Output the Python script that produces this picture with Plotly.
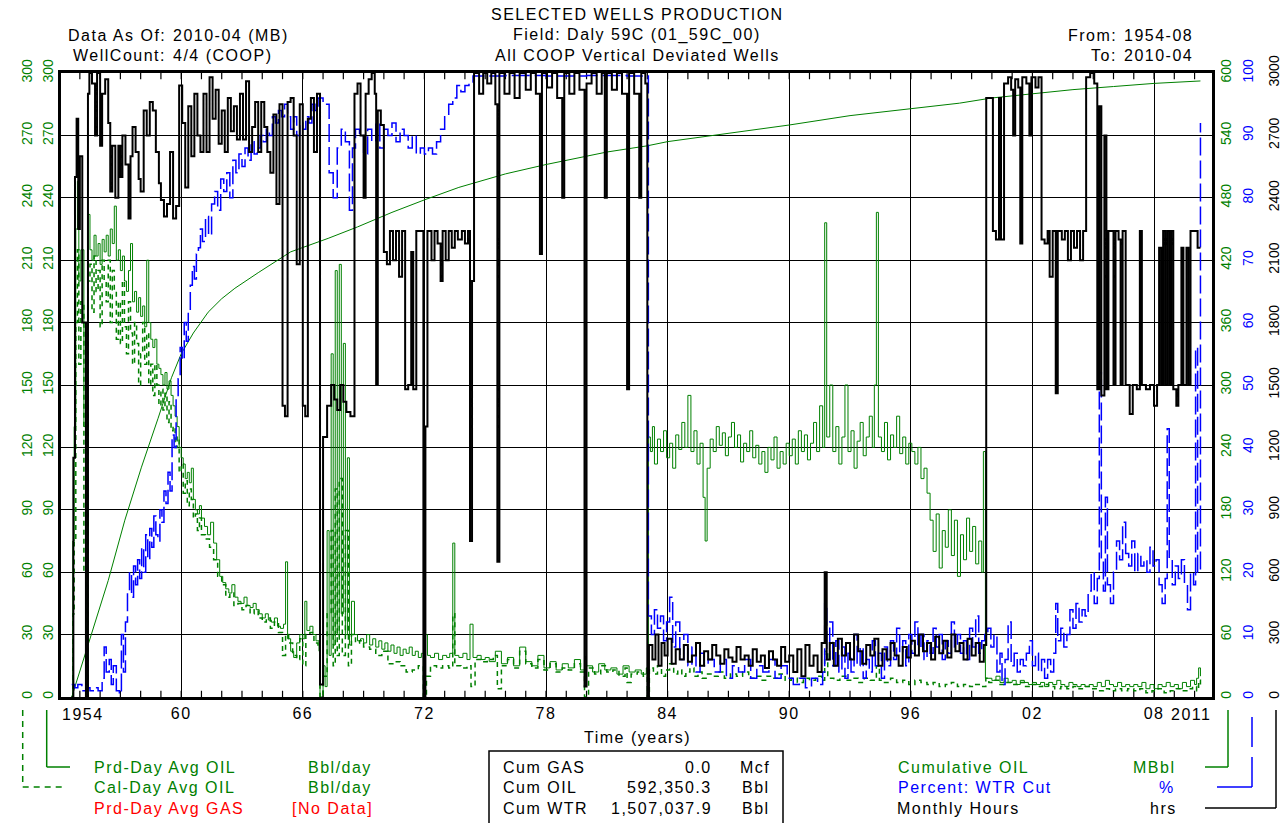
import plotly.graph_objects as go

# ---------------- data ----------------
X_TICK_YEARS = [1960, 1966, 1972, 1978, 1984, 1990, 1996, 2002, 2008]
X_TICK_TEXT = ["60", "66", "72", "78", "84", "90", "96", "02", "08"]
X_MINOR_YEARS = list(range(1955, 2011))
X_FIRST_LABEL = "1954"
X_LAST_LABEL = "2011"
X_RANGE = [1954.07, 2010.86]

LEFT_TICKS = [0, 30, 60, 90, 120, 150, 180, 210, 240, 270, 300]
CUM_TICKS = [0, 60, 120, 180, 240, 300, 360, 420, 480, 540, 600]
WC_TICKS = [0, 10, 20, 30, 40, 50, 60, 70, 80, 90, 100]
HRS_TICKS = [0, 300, 600, 900, 1200, 1500, 1800, 2100, 2400, 2700, 3000]

# Prd-Day Avg OIL (Bbl/day)  (year, value)
PRD_OIL = [
    (1954.60, 0), (1954.65, 75), (1954.72, 130), (1954.80, 225), (1954.88, 248), (1954.95, 200),
    (1955.05, 215), (1955.20, 130), (1955.30, 0), (1955.40, 232), (1955.50, 215), (1955.60, 210),
    (1955.70, 222), (1955.80, 212), (1955.90, 218), (1956.00, 208), (1956.10, 220), (1956.20, 214),
    (1956.30, 222), (1956.40, 212), (1956.50, 225), (1956.60, 218), (1956.70, 236), (1956.80, 210),
    (1956.90, 215), (1957.00, 205), (1957.10, 212), (1957.20, 200), (1957.30, 195), (1957.40, 205),
    (1957.50, 218), (1957.60, 190), (1957.70, 195), (1957.80, 185), (1957.90, 192), (1958.00, 183),
    (1958.10, 188), (1958.20, 178), (1958.30, 210), (1958.40, 180), (1958.50, 172), (1958.60, 168),
    (1958.70, 172), (1958.80, 160), (1958.90, 158), (1959.00, 155), (1959.10, 150), (1959.20, 156),
    (1959.30, 148), (1959.40, 152), (1959.50, 145), (1959.60, 140), (1959.70, 135), (1959.80, 130),
    (1959.90, 120), (1960.00, 115), (1960.10, 112), (1960.20, 105), (1960.30, 108), (1960.40, 103),
    (1960.50, 110), (1960.60, 95), (1960.70, 90), (1960.80, 88), (1960.90, 92), (1961.00, 86),
    (1961.15, 82), (1961.30, 78), (1961.45, 84), (1961.60, 74), (1961.75, 66), (1961.90, 58),
    (1962.05, 55), (1962.20, 52), (1962.35, 50), (1962.50, 54), (1962.65, 48), (1962.80, 46),
    (1962.95, 45), (1963.10, 48), (1963.25, 44), (1963.40, 43), (1963.55, 45), (1963.70, 42),
    (1963.85, 40), (1964.00, 38), (1964.15, 40), (1964.30, 37), (1964.45, 36), (1964.60, 38),
    (1964.75, 34), (1964.90, 33), (1965.05, 35), (1965.15, 65), (1965.25, 28), (1965.40, 22),
    (1965.55, 19), (1965.70, 26), (1965.85, 30), (1966.00, 28), (1966.10, 46), (1966.20, 32),
    (1966.35, 34), (1966.50, 30), (1966.65, 27), (1966.80, 22), (1966.85, 0), (1967.00, 15),
    (1967.10, 5), (1967.20, 80), (1967.30, 20), (1967.40, 165), (1967.50, 25), (1967.60, 205),
    (1967.70, 30), (1967.80, 208), (1967.90, 40), (1968.00, 170), (1968.10, 30), (1968.20, 115),
    (1968.30, 25), (1968.40, 46), (1968.55, 30), (1968.70, 27), (1968.85, 28), (1969.00, 26),
    (1969.15, 30), (1969.30, 25), (1969.45, 28), (1969.60, 24), (1969.75, 27), (1969.90, 23),
    (1970.05, 26), (1970.20, 22), (1970.35, 25), (1970.50, 21), (1970.65, 24), (1970.80, 20),
    (1970.95, 23), (1971.10, 21), (1971.25, 24), (1971.40, 20), (1971.55, 22), (1971.70, 19),
    (1971.85, 21), (1971.95, 0), (1972.05, 30), (1972.15, 20), (1972.30, 19), (1972.50, 21),
    (1972.70, 18), (1972.90, 20), (1973.10, 19), (1973.25, 21), (1973.40, 74), (1973.50, 20),
    (1973.70, 19), (1973.90, 21), (1974.10, 18), (1974.25, 35), (1974.40, 19), (1974.60, 20),
    (1974.80, 18), (1975.00, 19), (1975.20, 17), (1975.50, 22), (1975.80, 16), (1976.10, 19),
    (1976.40, 15), (1976.70, 24), (1977.00, 17), (1977.30, 15), (1977.60, 20), (1977.90, 14),
    (1978.20, 17), (1978.50, 13), (1978.80, 16), (1979.10, 14), (1979.40, 18), (1979.70, 13),
    (1980.00, 15), (1980.30, 12), (1980.60, 16), (1980.90, 13), (1981.20, 14), (1981.50, 11),
    (1981.80, 15), (1982.10, 12), (1982.40, 13), (1982.70, 11), (1982.95, 14),
    (1983.05, 125), (1983.15, 118), (1983.25, 130), (1983.35, 112), (1983.50, 124), (1983.65, 118),
    (1983.80, 128), (1983.95, 115), (1984.10, 122), (1984.25, 110), (1984.40, 126), (1984.55, 119),
    (1984.70, 132), (1984.85, 120), (1985.00, 145), (1985.15, 118), (1985.30, 128), (1985.45, 112),
    (1985.60, 122), (1985.75, 96), (1985.85, 75), (1985.95, 110), (1986.10, 124), (1986.25, 118),
    (1986.40, 130), (1986.55, 121), (1986.70, 127), (1986.85, 116), (1987.00, 125), (1987.15, 132),
    (1987.30, 120), (1987.45, 126), (1987.60, 113), (1987.75, 122), (1987.90, 118), (1988.05, 128),
    (1988.20, 115), (1988.35, 121), (1988.50, 112), (1988.65, 118), (1988.80, 108), (1988.95, 120),
    (1989.10, 114), (1989.25, 125), (1989.40, 110), (1989.55, 118), (1989.70, 112), (1989.85, 122),
    (1990.00, 116), (1990.15, 124), (1990.30, 112), (1990.45, 128), (1990.60, 118), (1990.75, 126),
    (1990.90, 114), (1991.05, 122), (1991.20, 132), (1991.35, 118), (1991.50, 140), (1991.65, 120),
    (1991.75, 228), (1991.85, 125), (1992.00, 150), (1992.15, 118), (1992.30, 130), (1992.45, 112),
    (1992.60, 125), (1992.75, 150), (1992.90, 118), (1993.05, 128), (1993.20, 110), (1993.35, 123),
    (1993.50, 132), (1993.65, 116), (1993.80, 125), (1993.95, 135), (1994.10, 120), (1994.20, 150),
    (1994.30, 233), (1994.40, 125), (1994.55, 118), (1994.70, 132), (1994.85, 114), (1995.00, 126),
    (1995.15, 120), (1995.30, 135), (1995.45, 117), (1995.60, 125), (1995.75, 112), (1995.90, 122),
    (1996.05, 118), (1996.20, 112), (1996.35, 120), (1996.50, 105), (1996.65, 110), (1996.80, 98),
    (1996.95, 85), (1997.10, 70), (1997.25, 88), (1997.40, 62), (1997.55, 80), (1997.70, 72),
    (1997.85, 90), (1998.00, 68), (1998.15, 85), (1998.30, 58), (1998.45, 78), (1998.60, 66),
    (1998.75, 86), (1998.90, 70), (1999.05, 82), (1999.20, 64), (1999.35, 75), (1999.50, 60),
    (1999.58, 118), (1999.68, 9),
    (2000.00, 8), (2000.20, 10), (2000.40, 7), (2000.60, 9), (2000.80, 7), (2001.00, 8),
    (2001.20, 6), (2001.40, 8), (2001.60, 7), (2001.80, 6), (2002.00, 7), (2002.20, 6),
    (2002.40, 7), (2002.60, 5), (2002.80, 7), (2003.00, 6), (2003.20, 8), (2003.40, 6),
    (2003.60, 5), (2003.80, 7), (2004.00, 6), (2004.20, 5), (2004.40, 6), (2004.60, 5),
    (2004.80, 6), (2005.00, 5), (2005.20, 7), (2005.40, 5), (2005.60, 8), (2005.80, 6),
    (2006.00, 5), (2006.20, 7), (2006.40, 5), (2006.60, 6), (2006.80, 5), (2007.00, 6),
    (2007.20, 5), (2007.40, 7), (2007.60, 4), (2007.80, 6), (2008.00, 4), (2008.20, 6),
    (2008.40, 5), (2008.60, 7), (2008.80, 5), (2009.00, 6), (2009.20, 4), (2009.40, 7),
    (2009.60, 5), (2009.80, 8), (2010.00, 6), (2010.10, 9), (2010.20, 14), (2010.29, 10),
]

# Cal-Day Avg OIL (Bbl/day)
CAL_OIL = [
    (1954.60, 0), (1954.65, 40), (1954.72, 75), (1954.80, 180), (1954.88, 215), (1954.95, 160),
    (1955.05, 190), (1955.20, 60), (1955.30, 0), (1955.40, 200), (1955.50, 208), (1955.60, 185),
    (1955.70, 212), (1955.80, 195), (1955.90, 205), (1956.00, 178), (1956.10, 210), (1956.20, 200),
    (1956.30, 190), (1956.40, 210), (1956.50, 180), (1956.60, 205), (1956.70, 195), (1956.80, 172),
    (1956.90, 190), (1957.00, 170), (1957.10, 200), (1957.20, 178), (1957.30, 165), (1957.40, 190),
    (1957.50, 175), (1957.60, 160), (1957.70, 180), (1957.80, 170), (1957.90, 150), (1958.00, 165),
    (1958.10, 180), (1958.20, 160), (1958.30, 175), (1958.40, 150), (1958.50, 160), (1958.60, 145),
    (1958.70, 160), (1958.80, 150), (1958.90, 140), (1959.00, 148), (1959.10, 138), (1959.20, 146),
    (1959.30, 132), (1959.40, 142), (1959.50, 128), (1959.60, 130), (1959.70, 120), (1959.80, 125),
    (1959.90, 108), (1960.00, 112), (1960.10, 98), (1960.20, 104), (1960.30, 92), (1960.40, 100),
    (1960.50, 95), (1960.60, 86), (1960.70, 88), (1960.80, 80), (1960.90, 86), (1961.00, 78),
    (1961.20, 76), (1961.40, 72), (1961.60, 66), (1961.80, 58), (1962.00, 54), (1962.20, 48),
    (1962.40, 50), (1962.60, 44), (1962.80, 45), (1963.00, 42), (1963.20, 44), (1963.40, 40),
    (1963.60, 42), (1963.80, 38), (1964.00, 36), (1964.20, 38), (1964.40, 33), (1964.60, 36),
    (1964.80, 31), (1965.00, 20), (1965.15, 30), (1965.30, 26), (1965.50, 20), (1965.70, 18),
    (1965.85, 28), (1966.00, 15), (1966.15, 30), (1966.35, 31), (1966.55, 26), (1966.75, 24),
    (1966.85, 0), (1967.00, 10), (1967.20, 40), (1967.40, 80), (1967.50, 15), (1967.60, 100),
    (1967.70, 20), (1967.80, 105), (1967.95, 20), (1968.10, 80), (1968.25, 15), (1968.40, 30),
    (1968.60, 26), (1968.80, 27), (1969.00, 24), (1969.30, 23), (1969.60, 20), (1969.90, 22),
    (1970.20, 16), (1970.50, 17), (1970.80, 15), (1971.10, 12), (1971.40, 13), (1971.70, 15),
    (1971.95, 0), (1972.10, 10), (1972.30, 15), (1972.60, 14), (1972.90, 15), (1973.20, 14),
    (1973.40, 40), (1973.50, 15), (1973.80, 14), (1974.10, 15), (1974.30, 5), (1974.50, 18),
    (1974.80, 17), (1975.10, 18), (1975.40, 20), (1975.60, 4), (1975.80, 15), (1976.10, 18),
    (1976.40, 14), (1976.70, 22), (1977.00, 16), (1977.30, 14), (1977.60, 18), (1977.90, 13),
    (1978.20, 16), (1978.50, 12), (1978.80, 14), (1979.10, 13), (1979.40, 16), (1979.70, 12),
    (1979.90, 0), (1980.10, 14), (1980.40, 11), (1980.70, 15), (1981.00, 12), (1981.30, 13),
    (1981.60, 10), (1981.90, 14), (1982.00, 7), (1982.20, 11), (1982.50, 12), (1982.80, 10),
    (1983.00, 0), (1983.10, 14), (1983.30, 11), (1983.50, 15), (1983.70, 10), (1983.90, 13),
    (1984.10, 16), (1984.30, 11), (1984.50, 13), (1984.70, 10), (1984.90, 12), (1985.10, 14),
    (1985.30, 10), (1985.50, 12), (1985.70, 9), (1985.90, 11), (1986.20, 10), (1986.50, 12),
    (1986.80, 9), (1987.10, 11), (1987.40, 10), (1987.70, 12), (1988.00, 9), (1988.30, 10),
    (1988.60, 8), (1988.90, 10), (1989.20, 9), (1989.50, 11), (1989.80, 8), (1990.10, 9),
    (1990.40, 7), (1990.70, 9), (1991.00, 8), (1991.30, 10), (1991.60, 8), (1991.75, 22),
    (1991.90, 9), (1992.20, 8), (1992.50, 10), (1992.80, 8), (1993.10, 9), (1993.40, 7),
    (1993.70, 9), (1994.00, 8), (1994.30, 15), (1994.45, 8), (1994.70, 7), (1995.00, 9),
    (1995.30, 7), (1995.60, 8), (1995.90, 6), (1996.20, 8), (1996.50, 7), (1996.80, 6),
    (1997.10, 7), (1997.40, 5), (1997.70, 6), (1998.00, 7), (1998.30, 5), (1998.60, 6),
    (1998.90, 5), (1999.20, 6), (1999.50, 5), (1999.70, 9), (1999.85, 7), (2000.10, 8),
    (2000.40, 6), (2000.70, 7), (2001.00, 6), (2001.30, 7), (2001.60, 5), (2001.90, 6),
    (2002.20, 5), (2002.50, 6), (2002.80, 5), (2003.10, 4), (2003.40, 5), (2003.70, 4),
    (2004.00, 5), (2004.30, 4), (2004.60, 5), (2004.90, 4), (2005.20, 3), (2005.50, 4),
    (2005.80, 3), (2006.10, 4), (2006.40, 3), (2006.70, 4), (2007.00, 3), (2007.30, 4),
    (2007.60, 2), (2007.90, 3), (2008.20, 4), (2008.50, 2), (2008.80, 3), (2009.10, 4),
    (2009.40, 3), (2009.70, 4), (2009.90, 5), (2010.10, 3), (2010.20, 8), (2010.29, 6),
]

# Cumulative OIL (MBbl)
CUM_OIL = [
    (1954.60, 0), (1955.00, 25), (1955.57, 62), (1956.00, 88), (1956.40, 112), (1957.22, 170),
    (1958.04, 221), (1958.86, 268), (1959.52, 307), (1960.00, 330), (1960.60, 350), (1961.33, 370),
    (1962.00, 383), (1962.65, 393), (1963.80, 408), (1965.40, 428), (1967.25, 441), (1968.70, 452),
    (1970.40, 466), (1972.00, 478), (1973.70, 490), (1976.00, 503), (1978.00, 512), (1981.00, 524),
    (1983.00, 530), (1984.00, 534), (1987.00, 542), (1990.00, 550), (1993.00, 559), (1996.00, 566),
    (1998.40, 571), (2000.00, 576), (2002.00, 580), (2004.00, 584), (2006.00, 587), (2008.00, 590),
    (2010.29, 592.35),
]

# Percent: WTR Cut (%)
WTR_CUT = [
    (1954.60, 2), (1954.75, 1.5), (1954.90, 2), (1955.10, 1), (1955.30, 1.5), (1955.50, 1),
    (1955.70, 1.5), (1955.90, 1), (1956.10, 3), (1956.20, 8), (1956.30, 4), (1956.45, 6),
    (1956.55, 2), (1956.65, 5), (1956.80, 1), (1956.95, 0.5), (1957.05, 10), (1957.15, 4),
    (1957.25, 12), (1957.35, 17), (1957.45, 20), (1957.55, 16), (1957.65, 21), (1957.75, 18),
    (1957.85, 22), (1957.95, 19), (1958.05, 24), (1958.15, 20), (1958.25, 26), (1958.35, 22),
    (1958.45, 27), (1958.55, 24), (1958.65, 29), (1958.75, 26), (1958.85, 25), (1958.95, 30),
    (1959.05, 28), (1959.15, 33), (1959.25, 31), (1959.35, 36), (1959.45, 33), (1959.55, 42),
    (1959.65, 40), (1959.75, 48), (1959.85, 51), (1959.95, 56), (1960.05, 54), (1960.15, 60),
    (1960.25, 57), (1960.35, 62), (1960.45, 66), (1960.55, 69), (1960.65, 67), (1960.75, 71),
    (1960.85, 72), (1960.95, 75), (1961.05, 73), (1961.20, 77), (1961.35, 74), (1961.50, 79),
    (1961.65, 81), (1961.80, 78), (1961.95, 83), (1962.10, 81), (1962.25, 84), (1962.40, 80),
    (1962.55, 86), (1962.70, 84), (1962.85, 87), (1963.00, 85), (1963.15, 88), (1963.30, 86),
    (1963.45, 89), (1963.60, 87), (1963.75, 88), (1963.90, 90), (1964.05, 89), (1964.20, 91),
    (1964.35, 90), (1964.50, 93), (1964.65, 92), (1964.80, 94), (1964.95, 93), (1965.10, 95),
    (1965.25, 93), (1965.40, 91), (1965.55, 93), (1965.70, 90), (1965.85, 92), (1966.00, 91),
    (1966.15, 93), (1966.30, 92), (1966.45, 95), (1966.60, 94), (1966.75, 96), (1966.85, 96),
    (1967.00, 95), (1967.30, 84), (1967.50, 80), (1967.70, 88), (1967.90, 91), (1968.10, 89),
    (1968.30, 78), (1968.45, 88), (1968.60, 91), (1968.80, 90), (1969.00, 87), (1969.20, 91),
    (1969.40, 89), (1969.60, 92), (1969.80, 88), (1970.00, 91), (1970.20, 90), (1970.40, 92),
    (1970.60, 89), (1970.80, 91), (1971.00, 90), (1971.20, 88), (1971.40, 90), (1971.60, 87),
    (1971.80, 88), (1972.00, 87), (1972.20, 88), (1972.40, 87), (1972.60, 89), (1972.80, 91),
    (1973.00, 93), (1973.20, 95), (1973.40, 96), (1973.60, 98), (1973.80, 97), (1974.00, 98),
    (1974.20, 98.5), (1974.40, 99.5), (1976.00, 99.6), (1978.00, 99.5), (1980.00, 99.6),
    (1982.00, 99.5), (1982.95, 99.5),
    (1983.05, 13), (1983.20, 10), (1983.35, 14), (1983.50, 11), (1983.65, 13), (1983.80, 9),
    (1983.95, 12), (1984.10, 16), (1984.25, 8), (1984.40, 12), (1984.60, 6), (1984.80, 10),
    (1985.00, 5), (1985.20, 8), (1985.40, 4), (1985.60, 7), (1985.80, 5), (1986.00, 6),
    (1986.30, 4), (1986.60, 6), (1986.90, 3), (1987.20, 5), (1987.50, 4), (1987.80, 6),
    (1988.10, 3), (1988.40, 5), (1988.70, 4), (1989.00, 6), (1989.30, 3), (1989.60, 5),
    (1989.90, 3), (1990.20, 2), (1990.50, 3), (1990.80, 1.5), (1991.10, 3), (1991.40, 2),
    (1991.65, 4), (1991.75, 15), (1991.85, 6), (1992.00, 12), (1992.15, 5), (1992.30, 9),
    (1992.45, 4), (1992.60, 8), (1992.75, 3), (1992.90, 7), (1993.05, 4), (1993.20, 10),
    (1993.35, 5), (1993.50, 8), (1993.65, 3), (1993.80, 6), (1993.95, 4), (1994.10, 9),
    (1994.25, 5), (1994.40, 7), (1994.55, 3), (1994.70, 8), (1994.85, 5), (1995.00, 9),
    (1995.15, 6), (1995.30, 11), (1995.45, 7), (1995.60, 9), (1995.75, 5), (1995.90, 10),
    (1996.05, 7), (1996.20, 12), (1996.35, 8), (1996.50, 10), (1996.65, 6), (1996.80, 9),
    (1996.95, 7), (1997.10, 11), (1997.25, 8), (1997.40, 10), (1997.55, 6), (1997.70, 9),
    (1997.85, 7), (1998.00, 12), (1998.15, 8), (1998.30, 10), (1998.45, 7), (1998.60, 9),
    (1998.75, 6), (1998.90, 11), (1999.05, 8), (1999.20, 13), (1999.35, 7), (1999.50, 9),
    (1999.65, 10), (1999.80, 11), (1999.95, 8), (2000.10, 10), (2000.25, 4), (2000.40, 7),
    (2000.50, 2), (2000.65, 6), (2000.80, 12), (2000.95, 5), (2001.10, 7), (2001.25, 4),
    (2001.40, 6), (2001.55, 5), (2001.70, 7), (2001.85, 9), (2002.00, 5), (2002.15, 7),
    (2002.30, 4), (2002.45, 6), (2002.60, 3), (2002.75, 6), (2002.90, 4), (2003.05, 7),
    (2003.15, 15), (2003.25, 9), (2003.40, 11), (2003.55, 8), (2003.70, 10), (2003.85, 14),
    (2004.00, 11), (2004.15, 15), (2004.30, 12), (2004.45, 14), (2004.60, 13), (2004.75, 17),
    (2004.90, 20), (2005.05, 15), (2005.20, 19), (2005.30, 52), (2005.40, 22), (2005.50, 17),
    (2005.60, 32), (2005.70, 18), (2005.85, 15), (2006.00, 20), (2006.15, 25), (2006.30, 22),
    (2006.45, 28), (2006.60, 23), (2006.75, 21), (2006.90, 25), (2007.05, 20), (2007.20, 23),
    (2007.35, 21), (2007.50, 22), (2007.65, 20), (2007.80, 24), (2007.95, 21), (2008.10, 22),
    (2008.25, 18), (2008.40, 15), (2008.55, 19), (2008.65, 43), (2008.75, 22), (2008.90, 18),
    (2009.05, 21), (2009.20, 19), (2009.35, 22), (2009.50, 18), (2009.65, 14), (2009.80, 20),
    (2009.95, 18), (2010.05, 56), (2010.15, 20), (2010.29, 92),
]

# Monthly Hours (hrs)
MONTHLY_HOURS = [
    (1954.60, 0), (1954.68, 1150), (1954.76, 2500), (1954.84, 2780), (1954.92, 2250), (1955.00, 2600),
    (1955.12, 1800), (1955.30, 0), (1955.40, 2900), (1955.47, 3000), (1955.60, 2950), (1955.75, 2700),
    (1955.85, 3000), (1956.00, 2650), (1956.10, 2900), (1956.25, 2970), (1956.40, 2760), (1956.50, 2430),
    (1956.60, 2650), (1956.75, 2400), (1956.90, 2650), (1957.00, 2500), (1957.10, 2700), (1957.25, 2560),
    (1957.40, 2300), (1957.50, 2600), (1957.60, 2740), (1957.75, 2620), (1957.90, 2490), (1958.00, 2430),
    (1958.15, 2820), (1958.30, 2700), (1958.45, 2860), (1958.60, 2820), (1958.75, 2620), (1958.90, 2470),
    (1959.00, 2390), (1959.15, 2310), (1959.30, 2370), (1959.45, 2620), (1959.60, 2300), (1959.75, 2360),
    (1959.90, 2940), (1960.05, 2760), (1960.20, 2450), (1960.35, 2840), (1960.50, 2600), (1960.65, 2900),
    (1960.80, 2700), (1960.95, 2620), (1961.10, 2900), (1961.25, 2620), (1961.40, 2980), (1961.55, 2780),
    (1961.70, 2920), (1961.85, 2660), (1962.00, 2820), (1962.15, 2620), (1962.30, 2880), (1962.45, 2720),
    (1962.60, 2840), (1962.75, 2680), (1962.90, 2900), (1963.05, 2680), (1963.20, 2960), (1963.35, 2620),
    (1963.50, 2740), (1963.65, 2860), (1963.80, 2620), (1963.95, 2860), (1964.10, 2740), (1964.25, 2620),
    (1964.40, 2520), (1964.55, 2800), (1964.70, 2370), (1964.85, 2850), (1965.00, 1400), (1965.12, 1350),
    (1965.25, 2860), (1965.40, 2880), (1965.55, 2700), (1965.70, 2080), (1965.85, 2850), (1966.00, 1400),
    (1966.12, 1350), (1966.25, 2780), (1966.40, 2880), (1966.55, 2620), (1966.70, 2900), (1966.85, 60),
    (1967.00, 1250), (1967.20, 1400), (1967.40, 1500), (1967.55, 1430), (1967.70, 1380), (1967.85, 1500),
    (1968.00, 1420), (1968.15, 1370), (1968.35, 1350), (1968.55, 2900), (1968.70, 2950), (1968.85, 2700),
    (1969.00, 2400), (1969.10, 2900), (1969.25, 2970), (1969.40, 3000), (1969.55, 2900), (1969.62, 1500),
    (1969.70, 2820), (1969.85, 2750), (1970.00, 2140), (1970.15, 2080), (1970.30, 2240), (1970.45, 2100),
    (1970.60, 2240), (1970.75, 2020), (1970.90, 2240), (1971.05, 1480), (1971.20, 1500), (1971.35, 2140),
    (1971.45, 1480), (1971.60, 2240), (1971.80, 2240), (1971.95, 0), (1972.05, 1300), (1972.15, 2240),
    (1972.35, 2100), (1972.50, 2240), (1972.65, 2180), (1972.80, 2000), (1972.90, 2240), (1973.05, 2100),
    (1973.20, 2240), (1973.35, 2160), (1973.50, 2240), (1973.65, 2200), (1973.85, 2240), (1974.00, 2180),
    (1974.15, 2240), (1974.25, 750), (1974.35, 2000), (1974.45, 3000), (1974.70, 2900), (1974.90, 3000),
    (1975.10, 2950), (1975.30, 3000), (1975.50, 2850), (1975.60, 650), (1975.70, 3000), (1975.95, 2900),
    (1976.20, 3000), (1976.45, 2880), (1976.70, 3000), (1977.00, 2920), (1977.25, 3000), (1977.50, 2900),
    (1977.70, 2130), (1977.80, 3000), (1978.05, 2930), (1978.30, 3000), (1978.55, 2880), (1978.80, 2400),
    (1978.90, 3000), (1979.15, 2900), (1979.40, 3000), (1979.65, 2920), (1979.90, 50), (1980.00, 2950),
    (1980.25, 3000), (1980.50, 2900), (1980.75, 3000), (1980.90, 2400), (1981.00, 3000), (1981.25, 2920),
    (1981.50, 3000), (1981.75, 2900), (1982.00, 1480), (1982.10, 3000), (1982.35, 2900), (1982.60, 2400),
    (1982.70, 3000), (1982.90, 2950), (1983.00, 0), (1983.08, 250), (1983.25, 180), (1983.40, 300),
    (1983.55, 150), (1983.70, 260), (1983.85, 200), (1984.00, 280), (1984.20, 160), (1984.40, 230),
    (1984.60, 180), (1984.80, 250), (1985.00, 170), (1985.20, 200), (1985.40, 260), (1985.60, 150),
    (1985.80, 220), (1986.00, 180), (1986.20, 250), (1986.40, 200), (1986.60, 160), (1986.80, 230),
    (1987.00, 190), (1987.20, 170), (1987.40, 240), (1987.60, 180), (1987.80, 200), (1988.00, 150),
    (1988.20, 230), (1988.40, 170), (1988.60, 200), (1988.80, 140), (1989.00, 220), (1989.20, 180),
    (1989.40, 150), (1989.60, 240), (1989.80, 170), (1990.00, 200), (1990.20, 120), (1990.40, 230),
    (1990.60, 100), (1990.80, 250), (1991.00, 150), (1991.20, 200), (1991.40, 120), (1991.60, 260),
    (1991.75, 600), (1991.85, 180), (1992.00, 260), (1992.20, 150), (1992.40, 280), (1992.60, 200),
    (1992.80, 260), (1993.00, 180), (1993.20, 300), (1993.40, 220), (1993.60, 160), (1993.80, 250),
    (1994.00, 200), (1994.20, 280), (1994.40, 150), (1994.60, 230), (1994.80, 180), (1995.00, 260),
    (1995.20, 200), (1995.40, 150), (1995.60, 240), (1995.80, 190), (1996.00, 270), (1996.20, 200),
    (1996.40, 300), (1996.60, 220), (1996.80, 260), (1997.00, 180), (1997.20, 290), (1997.40, 210),
    (1997.60, 270), (1997.80, 190), (1998.00, 300), (1998.20, 220), (1998.40, 260), (1998.60, 180),
    (1998.80, 280), (1999.00, 200), (1999.20, 260), (1999.40, 170), (1999.60, 250), (1999.72, 2880),
    (1999.95, 2880), (2000.05, 2240), (2000.20, 2200), (2000.35, 2880), (2000.45, 2200), (2000.60, 2950),
    (2000.80, 2980), (2000.95, 2920), (2001.05, 2700), (2001.15, 2970), (2001.30, 2930), (2001.40, 2180),
    (2001.50, 2980), (2001.70, 2950), (2001.85, 2700), (2001.95, 2980), (2002.15, 2930), (2002.30, 2980),
    (2002.45, 2200), (2002.60, 2180), (2002.75, 2240), (2002.85, 2020), (2003.00, 2240), (2003.15, 1460),
    (2003.25, 2240), (2003.45, 2200), (2003.60, 2240), (2003.75, 2100), (2003.90, 2240), (2004.05, 2160),
    (2004.20, 2240), (2004.35, 2100), (2004.50, 2240), (2004.65, 2980), (2004.85, 3000), (2005.05, 2950),
    (2005.20, 1480), (2005.30, 2840), (2005.40, 1450), (2005.55, 2700), (2005.65, 1480), (2005.75, 2240),
    (2005.90, 2240), (2006.00, 1500), (2006.10, 2240), (2006.25, 2200), (2006.35, 1500), (2006.45, 2240),
    (2006.60, 1500), (2006.80, 1360), (2006.95, 1500), (2007.15, 1480), (2007.30, 2240), (2007.40, 1500),
    (2007.60, 1480), (2007.80, 1500), (2008.00, 1400), (2008.15, 1500), (2008.25, 2160), (2008.35, 1500),
    (2008.45, 2240), (2008.55, 1500), (2008.65, 2240), (2008.75, 1500), (2008.85, 2240), (2008.95, 1480),
    (2009.10, 1400), (2009.20, 1500), (2009.35, 2160), (2009.45, 1500), (2009.60, 2160), (2009.70, 1500),
    (2009.80, 2240), (2010.00, 2240), (2010.15, 2160), (2010.29, 2160),
]

TITLE_LINES = ["SELECTED WELLS PRODUCTION", "Field: Daly 59C (01_59C_00)", "All COOP Vertical Deviated Wells"]
CUM_TABLE = [("Cum GAS", "0.0", "Mcf"), ("Cum OIL", "592,350.3", "Bbl"), ("Cum WTR", "1,507,037.9", "Bbl")]

# ---------------- styling / layout ----------------
W, H = 1283, 823
L, R, T, B = 61, 1212, 73, 697
GREEN = "#008000"
BLUE = "#0000FF"
RED = "#FF0000"
BLACK = "#000000"
FONT = "Liberation Sans, Arial, sans-serif"
TICK_LEN_UNITS = 3.0   # yearly tick length, in left-axis units (~6 px)


def px(x):
    return x / W


def py(y):
    return 1 - y / H


def sp(t, ls=1.5):
    return f'<span style="letter-spacing:{ls}px">{t}</span>'


def unzip(pairs):
    return [p[0] for p in pairs], [p[1] for p in pairs]


fig = go.Figure()

hx, hy = unzip(MONTHLY_HOURS)
fig.add_trace(go.Scatter(x=hx, y=hy, yaxis="y5", mode="lines",
                         line=dict(color=BLACK, width=2, shape="hv")))
wx, wy = unzip(WTR_CUT)
fig.add_trace(go.Scatter(x=wx, y=wy, yaxis="y4", mode="lines",
                         line=dict(color=BLUE, width=1.5, shape="hv", dash="18px,5px")))
cx, cy = unzip(CAL_OIL)
fig.add_trace(go.Scatter(x=cx, y=cy, yaxis="y2", mode="lines",
                         line=dict(color=GREEN, width=1.5, shape="hv", dash="5px,4px")))
px_, py_ = unzip(PRD_OIL)
fig.add_trace(go.Scatter(x=px_, y=py_, yaxis="y", mode="lines",
                         line=dict(color=GREEN, width=1, shape="hv")))
ux, uy = unzip(CUM_OIL)
fig.add_trace(go.Scatter(x=ux, y=uy, yaxis="y3", mode="lines",
                         line=dict(color=GREEN, width=1)))

# yearly tick marks along the bottom and top frame, drawn through the axes
tick_x, tick_y = [], []
for yr in X_MINOR_YEARS:
    tick_x += [yr, yr, None, yr, yr, None]
    tick_y += [LEFT_TICKS[0], LEFT_TICKS[0] + TICK_LEN_UNITS, None,
               LEFT_TICKS[-1], LEFT_TICKS[-1] - TICK_LEN_UNITS, None]
fig.add_trace(go.Scatter(x=tick_x, y=tick_y, yaxis="y", mode="lines", hoverinfo="skip",
                         line=dict(color=BLACK, width=1.2), cliponaxis=False))


def side_axis(rng, vals, color, side, pos):
    return dict(overlaying="y", anchor="free", position=pos, side=side, range=rng,
                tickmode="array", tickvals=vals, tickangle=-90,
                tickfont=dict(family=FONT, size=14, color=color),
                showgrid=False, showline=False, zeroline=False, ticks="")


fig.update_layout(
    width=W, height=H,
    margin=dict(l=0, r=0, t=0, b=0, pad=0, autoexpand=False),
    paper_bgcolor="white", plot_bgcolor="white", showlegend=False,
    font=dict(family=FONT, size=16, color=BLACK),
    xaxis=dict(domain=[px(L), px(R)], range=X_RANGE, tickmode="array",
               tickvals=X_TICK_YEARS, ticktext=[sp(t) for t in X_TICK_TEXT],
               ticks="", showgrid=True, gridcolor=BLACK, gridwidth=1.3,
               showline=True, linecolor=BLACK, linewidth=2.5, mirror=True,
               tickfont=dict(family=FONT, size=16, color=BLACK), zeroline=False),
    yaxis=dict(domain=[py(B), py(T)], range=[0, 300], tickmode="array", tickvals=LEFT_TICKS,
               tickangle=-90, tickfont=dict(family=FONT, size=14, color=GREEN),
               showgrid=True, gridcolor=BLACK, gridwidth=1.3,
               showline=True, linecolor=BLACK, linewidth=2.5, mirror=True, ticks="", zeroline=False),
    yaxis2=side_axis([0, 300], LEFT_TICKS, GREEN, "left", px(35)),
    yaxis3=side_axis([0, 600], CUM_TICKS, GREEN, "right", px(1216)),
    yaxis4=side_axis([0, 100], WC_TICKS, BLUE, "right", px(1238)),
    yaxis5=side_axis([0, 3000], HRS_TICKS, BLACK, "right", px(1264)),
)


def note(x, y, text, color=BLACK, anchor="left", size=16, ls=1.5):
    fig.add_annotation(x=px(x), y=py(y), xref="paper", yref="paper", text=sp(text, ls),
                       showarrow=False, xanchor=anchor, yanchor="middle",
                       font=dict(family=FONT, size=size, color=color), borderpad=0)


for i, t in enumerate(TITLE_LINES):
    note(637, 15 + 20 * i, t, anchor="center")
note(167, 35, "Data As Of:", anchor="right")
note(172, 35, "2010-04 (MB)")
note(167, 55, "WellCount:", anchor="right")
note(172, 55, "4/4 (COOP)")
note(1118, 35, "From:", anchor="right")
note(1123, 35, "1954-08")
note(1118, 55, "To:", anchor="right")
note(1123, 55, "2010-04")

# first / last x labels through the x scale
fig.add_annotation(x=X_RANGE[0], y=py(714), xref="x", yref="paper", text=sp(X_FIRST_LABEL),
                   showarrow=False, xanchor="left", yanchor="middle",
                   font=dict(family=FONT, size=16, color=BLACK), borderpad=0)
fig.add_annotation(x=X_RANGE[1], y=py(714), xref="x", yref="paper", text=sp(X_LAST_LABEL),
                   showarrow=False, xanchor="right", yanchor="middle",
                   font=dict(family=FONT, size=16, color=BLACK), borderpad=0)
note(637, 737, "Time (years)", anchor="center")

# left legend
note(93, 767, "Prd-Day Avg OIL", GREEN)
note(307, 767, "Bbl/day", GREEN)
note(93, 787, "Cal-Day Avg OIL", GREEN)
note(307, 787, "Bbl/day", GREEN)
note(93, 808, "Prd-Day Avg GAS", RED)
note(291, 808, "[No Data]", RED)

# cumulative box
for i, (a, b, c) in enumerate(CUM_TABLE):
    yy = 767 + 20.5 * i
    note(502, yy, a)
    note(713, yy, b, anchor="right")
    note(771, yy, c, anchor="right")

# right legend
note(897, 767, "Cumulative OIL", GREEN)
note(1176, 767, "MBbl", GREEN, anchor="right")
note(897, 787, "Percent: WTR Cut", BLUE)
note(1176, 787, "%", BLUE, anchor="right")
note(896, 808, "Monthly Hours", BLACK)
note(1178, 808, "hrs", BLACK, anchor="right")


def seg(x0, y0, x1, y1, color, dash="solid", width=1.5):
    fig.add_shape(type="line", xref="paper", yref="paper", x0=px(x0), y0=py(y0), x1=px(x1), y1=py(y1),
                  line=dict(color=color, width=width, dash=dash))


seg(46.7, 710, 46.7, 767, GREEN)
seg(46.7, 767, 70, 767, GREEN)
seg(22.7, 710, 22.7, 787, GREEN, dash="6px,5px")
seg(22.7, 787, 63, 787, GREEN, dash="6px,5px")
seg(1228, 710, 1228, 767, GREEN)
seg(1205, 767, 1228, 767, GREEN)
seg(1252, 717, 1252, 787, BLUE, dash="30px,10px")
seg(1217, 787, 1252, 787, BLUE)
seg(1276, 710, 1276, 808, BLACK)
seg(1205, 808, 1276, 808, BLACK)

fig.add_shape(type="rect", xref="paper", yref="paper", x0=px(489), x1=px(783), y0=py(840), y1=py(751),
              line=dict(color=BLACK, width=1.5), fillcolor="rgba(0,0,0,0)")

fig.write_html("out.html", config={"displayModeBar": False},
               post_script="document.body.style.margin='0px';")
